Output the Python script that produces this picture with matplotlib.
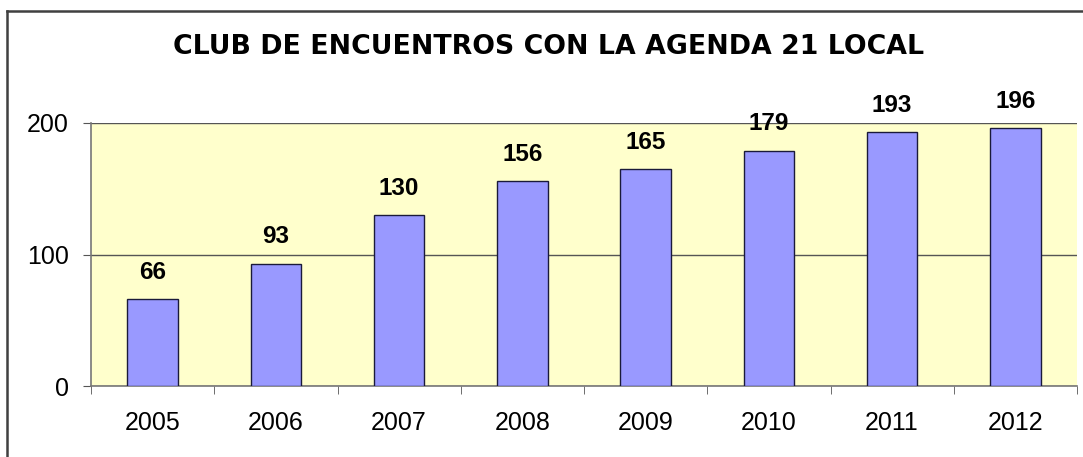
import matplotlib
matplotlib.use('Agg')
from matplotlib import pyplot as plt
from matplotlib.lines import Line2D
import numpy as np

years = ['2005', '2006', '2007', '2008', '2009', '2010', '2011', '2012']
counts = [66, 93, 130, 156, 165, 179, 193, 196]
yticks = [0, 100, 200]

plt.rcParams['font.family'] = ['Liberation Sans', 'DejaVu Sans']

fig = plt.figure(figsize=(10.83, 4.57), dpi=100)
ax = fig.add_axes([91 / 1083, 1 - 386 / 457, (1077 - 91) / 1083, (386 - 123) / 457])
ax.set_facecolor('#FFFFCC')

x = np.arange(len(years))
bars = ax.bar(x, counts, width=0.41, color='#9999FF', edgecolor='#1a1a3a', linewidth=1.0, zorder=3)

for xi, v in zip(x, counts):
    ax.annotate(str(v), (xi, v), xytext=(0, 11), textcoords='offset points',
                ha='center', va='bottom', fontsize=17.5, fontweight='bold')

ax.set_xlim(-0.5, len(years) - 0.5)
ax.set_ylim(0, 200)
ax.set_yticks(yticks)
ax.set_yticklabels([str(t) for t in yticks], fontsize=18)
ax.yaxis.grid(True, color='#555555', linewidth=1.0, zorder=1)

ax.set_xticks(x)
ax.set_xticklabels(years, fontsize=18)
ax.set_xticks(np.arange(len(years) + 1) - 0.5, minor=True)
ax.tick_params(axis='x', which='major', length=0, pad=18)
ax.tick_params(axis='x', which='minor', length=6, color='#555555', direction='out')
ax.tick_params(axis='y', length=6, color='#555555', pad=10)

for s in ['top', 'right']:
    ax.spines[s].set_visible(False)
for s in ['left', 'bottom']:
    ax.spines[s].set_color('#777777')
    ax.spines[s].set_linewidth(1.2)

fig.text(549 / 1083, 1 - 47 / 457, 'CLUB DE ENCUENTROS CON LA AGENDA 21 LOCAL',
         ha='center', va='center', fontsize=19.3, fontweight='heavy', family='DejaVu Sans')

# chart border (Excel chart area)
fig.add_artist(Line2D([7 / 1083, 7 / 1083], [0, 1 - 11 / 457], color='#404040', linewidth=1.8))
fig.add_artist(Line2D([7 / 1083, 1], [1 - 11 / 457, 1 - 11 / 457], color='#404040', linewidth=1.8))

fig.savefig('out.png', dpi=100)
